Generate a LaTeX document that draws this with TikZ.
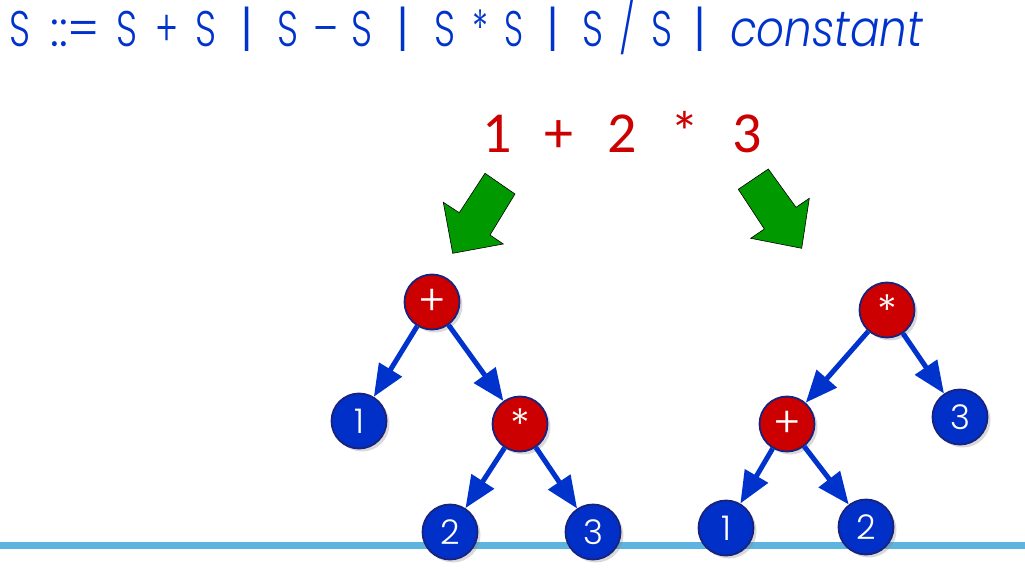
\documentclass[tikz,border=0pt]{standalone}
\usepackage{fontspec}
\usetikzlibrary{arrows.meta,shadows}
\newfontfamily\gfont{Poppins}[UprightFont=* Light, ItalicFont=* Light Italic]
\newfontfamily\cfont{Carlito}
\definecolor{gblue}{RGB}{0,51,204}
\definecolor{nblue}{RGB}{0,48,200}
\definecolor{navy}{RGB}{25,35,125}
\definecolor{opred}{RGB}{204,0,0}
\definecolor{exred}{RGB}{204,0,0}
\definecolor{arrowgreen}{RGB}{0,153,0}
\definecolor{lineblue}{RGB}{94,180,224}
% a grammar token squeezed to a given width, centred on the current point
\newcommand{\gtok}[2]{\makebox[0pt]{\resizebox{#1}{\height}{#2}}}
\newcommand{\gbar}{\makebox[0pt]{|}}
\tikzset{
  tnode/.style={circle, minimum size=55pt, inner sep=0pt, draw=navy, line width=1.8pt,
    text=white, drop shadow={opacity=0.3, shadow xshift=3pt, shadow yshift=-3pt}},
  opnode/.style={tnode, fill=opred, font=\gfont\fontsize{42}{42}\selectfont},
  numnode/.style={tnode, fill=nblue, font=\gfont\fontsize{34}{34}\selectfont},
  treeedge/.style={draw=gblue, line width=5pt, -{Triangle[length=32pt,width=26pt]}},
  bigarrow/.style={fill=arrowgreen, draw=black, line width=0.6pt}
}
\begin{document}
\begin{tikzpicture}[x=1pt,y=-1pt]
\useasboundingbox (0,0) rectangle (1025,569);

% grammar line, each token placed at its own column
\node[anchor=base west, inner sep=0pt, text=gblue, font=\gfont\fontsize{50}{50}\selectfont]
  (grammar) at (0,47) {%
  \hspace*{20pt}\gtok{21pt}{S}%
  \hspace*{55pt}\gtok{50pt}{::=}%
  \hspace*{51.5pt}\gtok{21pt}{S}%
  \hspace*{40pt}\gtok{23pt}{+}%
  \hspace*{39pt}\gtok{21pt}{S}%
  \hspace*{41.5pt}\gbar%
  \hspace*{40.5pt}\gtok{21pt}{S}%
  \hspace*{38pt}\gtok{25pt}{–}%
  \hspace*{36.5pt}\gtok{21pt}{S}%
  \hspace*{41pt}\gbar%
  \hspace*{41.5pt}\gtok{21pt}{S}%
  \hspace*{35.5pt}\gtok{16pt}{*}%
  \hspace*{33.5pt}\gtok{19pt}{S}%
  \hspace*{39.5pt}\gbar%
  \hspace*{40pt}\gtok{21pt}{S}%
  \hspace*{34pt}\gtok{16pt}{/}%
  \hspace*{35pt}\gtok{21pt}{S}%
  \hspace*{38pt}\gbar%
  \hspace*{30pt}\makebox[0pt][l]{\resizebox{193pt}{\height}{\textit{constant}}}%
  \hspace*{193pt}};

% expression
\node[anchor=base, inner sep=0pt, text=exred, font=\cfont\fontsize{58}{58}\selectfont]
  (expr) at (622,153) {\makebox[62.6pt]{1}\makebox[62.6pt]{+}\makebox[62.6pt]{2}\makebox[62.6pt]{*}\makebox[62.6pt]{3}};

% green block arrows
\draw[bigarrow] (485,173.3) -- (515,194) -- (490,235) -- (503.3,244) -- (452.7,253.3)
  -- (443.3,202.3) -- (459.3,212.7) -- cycle;
\draw[bigarrow] (738.3,189.3) -- (768.3,169) -- (796,207.3) -- (809.3,198.3) -- (801.7,248.3)
  -- (750.7,238.3) -- (764.3,229) -- cycle;

% base line
\draw[lineblue, line width=7pt] (0,545) -- (1025,545);

% left tree: 1 + (2 * 3)
\node[opnode]  (lplus) at (432,302) {+};
\node[numnode] (lone)  at (359,421) {1};
\node[opnode]  (ltimes) at (520,424) {*};
\node[numnode] (ltwo)  at (450,532) {2};
\node[numnode] (lthree) at (593,532) {3};
\draw[treeedge] (lplus) -- (lone);
\draw[treeedge] (lplus) -- (ltimes);
\draw[treeedge] (ltimes) -- (ltwo);
\draw[treeedge] (ltimes) -- (lthree);

% right tree: (1 + 2) * 3
\node[opnode]  (rtimes) at (887,310) {*};
\node[opnode]  (rplus) at (787,424) {+};
\node[numnode] (rthree) at (960,417) {3};
\node[numnode] (rone)  at (726,528) {1};
\node[numnode] (rtwo)  at (866,527) {2};
\draw[treeedge] (rtimes) -- (rplus);
\draw[treeedge] (rtimes) -- (rthree);
\draw[treeedge] (rplus) -- (rone);
\draw[treeedge] (rplus) -- (rtwo);
\end{tikzpicture}
\end{document}
